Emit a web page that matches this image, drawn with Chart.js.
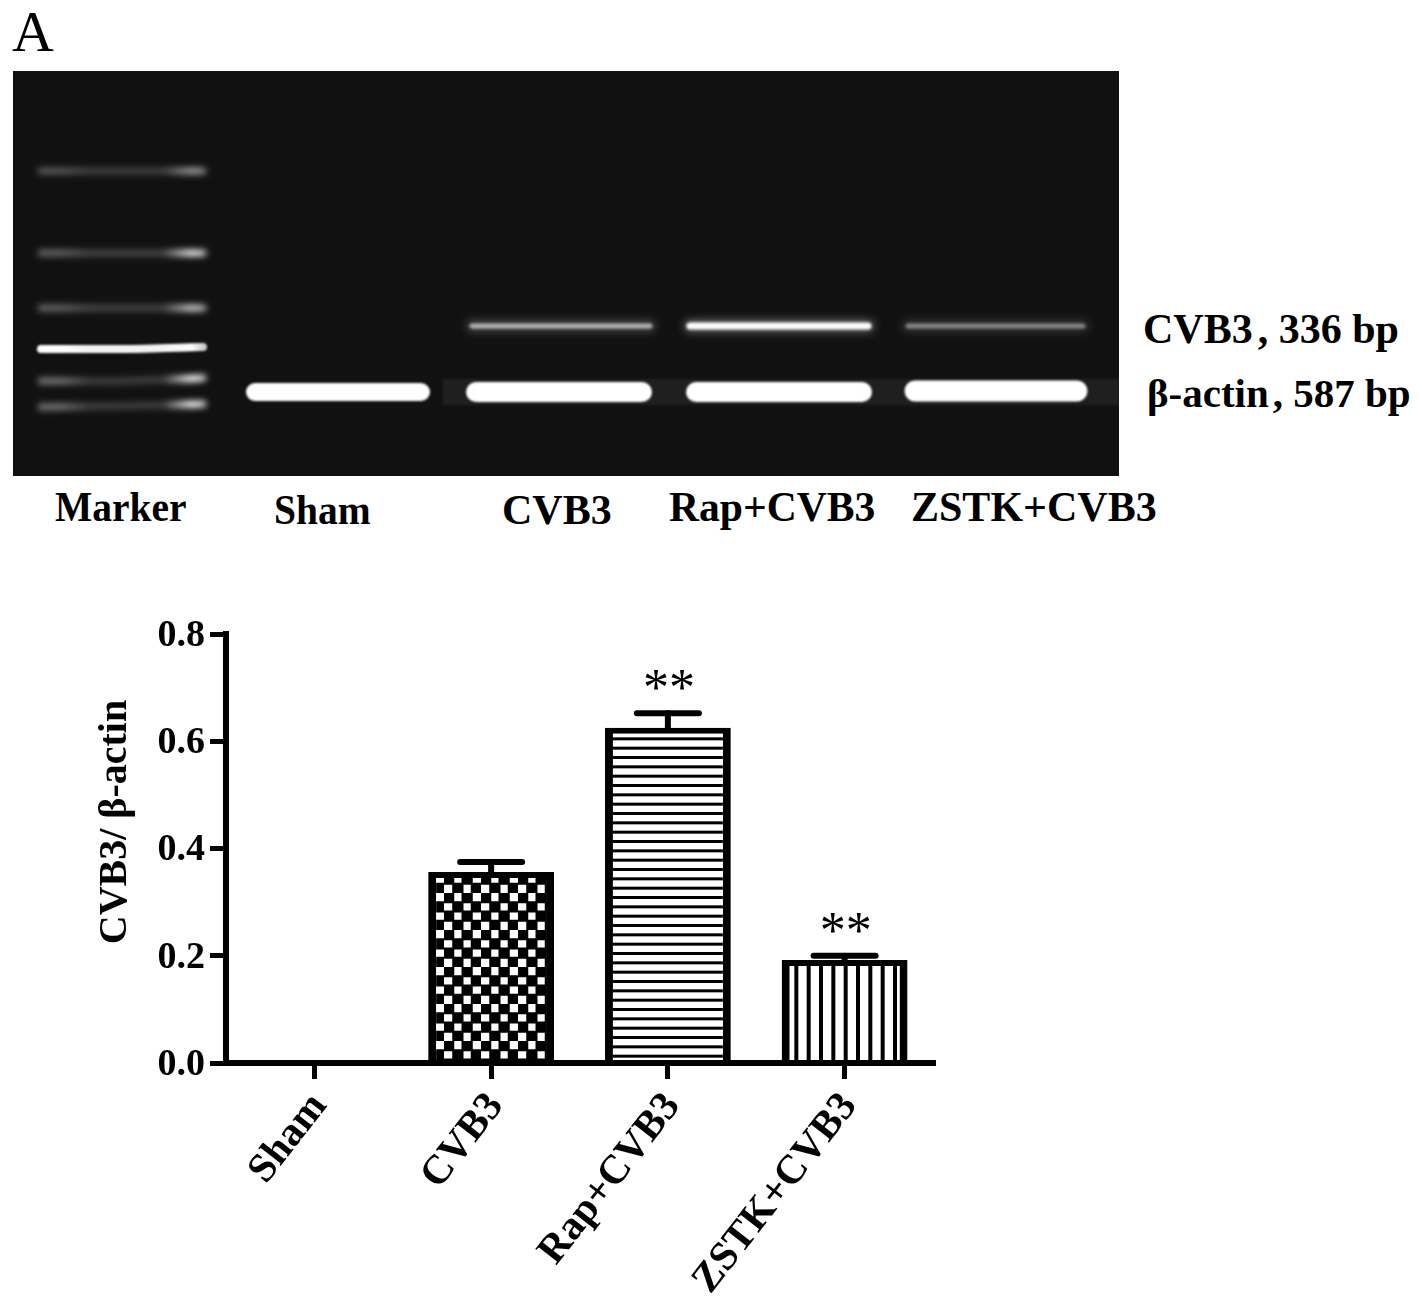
<!DOCTYPE html>
<html>
<head>
  <meta charset="utf-8">
  <script src="https://cdn.jsdelivr.net/npm/chart.js"></script>
  <style>
    html, body { margin: 0; background: #fff; }
    body { position: relative; width: 1422px; height: 1310px; overflow: hidden; filter: blur(0.5px); }
    canvas { position: absolute; display: block; }
    #gel { left: 13px; top: 71px; background: #111; }
    #bars { left: 0; top: 560px; }
    .lbl { position: absolute; white-space: nowrap; font: bold 42px "Liberation Serif", serif; color: #000; transform-origin: left top; line-height: 1; }
  </style>
</head>
<body>
  <div class="lbl" style="left:12px;top:3px;font-weight:normal;font-size:58px">A</div>
  <div class="lbl" style="left:55px;top:486px;transform:scaleX(.94)">Marker</div>
  <div class="lbl" style="left:274px;top:489px;transform:scaleX(.94)">Sham</div>
  <div class="lbl" style="left:502px;top:489px">CVB3</div>
  <div class="lbl" style="left:669px;top:486px;transform:scaleX(.99)">Rap+CVB3</div>
  <div class="lbl" style="left:911px;top:486px">ZSTK+CVB3</div>
  <div class="lbl" style="left:1143px;top:308px">CVB3<span style="margin-left:5px">,</span> 336 bp</div>
  <div class="lbl" style="left:1147px;top:373px;font-size:41px">β-actin<span style="margin-left:4px">,</span> 587 bp</div>

  <canvas id="gel" width="1106" height="405"></canvas>
  <canvas id="bars" width="1422" height="750"></canvas>

  <script>
    // bar chart values
    const groups = ['Sham', 'CVB3', 'Rap+CVB3', 'ZSTK+CVB3'];
    const ratio = [0, 0.356, 0.625, 0.192];
    const errorTop = [0, 0.375, 0.652, 0.2];
    const stars = ['', '', '**', '**'];
    const yTicks = [0, 0.2, 0.4, 0.6, 0.8];
    const yTitle = 'CVB3/ β-actin';

    // gel bands (x along the gel, y = migration distance)
    const markerX = [28, 110, 190];
    const markerStartY = [100, 182, 237, 278, 310, 336];
    const markerMidY = [100, 182, 237, 278, 310, 335];
    const markerEndY = [100, 182, 237, 276, 307, 333];
    const markerLeft = [0.3, 0.35, 0.35, 1, 0.42, 0.42];
    const markerMid = [0.2, 0.22, 0.22, 0.95, 0.2, 0.2];
    const markerRight = [0.6, 0.95, 0.8, 1, 1, 1];

    const actinLanes = ['Sham', 'CVB3', 'Rap+CVB3', 'ZSTK+CVB3'];
    const actinStart = [242, 463, 683, 902];
    const actinEnd = [408, 629, 849, 1064];
    const actinY = [321, 321, 321, 320];
    const actinSize = [18, 20, 20, 21];

    const viralStart = [459, 677, 895];
    const viralEnd = [637, 855, 1070];
    const viralY = [255, 255, 255];
    const viralLevel = [0.6, 1, 0.42];
    const viralSize = [5, 7, 5];

    const streakX = [430, 1106];
    const streakY = 321;

    function band(xs, ys, color, width, blur, cap) {
      return {
        data: xs.map((x, i) => ({ x: x, y: ys[i] })),
        borderColor: color,
        borderWidth: width,
        borderCapStyle: cap || 'round',
        pointRadius: 0,
        tension: 0.3,
        blur: blur
      };
    }

    const gelCtx = document.getElementById('gel').getContext('2d');

    // marker bands fade in the middle, the right hand end is the hot spot
    // the gel canvas is 1:1 with the x scale so markerX works for the gradient
    function markerColor(i) {
      const g = gelCtx.createLinearGradient(markerX[0], 0, markerX[2], 0);
      g.addColorStop(0, `rgba(255,255,255,${markerLeft[i]})`);
      g.addColorStop(0.12, `rgba(255,255,255,${markerLeft[i]})`);
      g.addColorStop(0.3, `rgba(255,255,255,${markerMid[i]})`);
      g.addColorStop(0.75, `rgba(255,255,255,${markerMid[i]})`);
      g.addColorStop(0.93, `rgba(255,255,255,${markerRight[i]})`);
      g.addColorStop(1, `rgba(255,255,255,${markerRight[i] * 0.8})`);
      return g;
    }

    const gelSets = [];
    gelSets.push(band(streakX, [streakY, streakY], 'rgba(255,255,255,0.06)', 26, 1, 'butt'));
    markerStartY.forEach((y, i) => {
      const ys = [y, markerMidY[i], markerEndY[i]];
      gelSets.push(band(markerX, ys, markerColor(i), i === 3 ? 8 : 7, i === 3 ? 1.3 : 3));
    });
    viralY.forEach((y, i) => {
      gelSets.push(band([viralStart[i], viralEnd[i]], [y, y], `rgba(255,255,255,${viralLevel[i] * 0.35})`, 12, 4));
      gelSets.push(band([viralStart[i], viralEnd[i]], [y, y], `rgba(255,255,255,${viralLevel[i]})`, viralSize[i], 1.6));
    });
    actinLanes.forEach((n, i) => {
      gelSets.push(band([actinStart[i], actinEnd[i]], [actinY[i], actinY[i]], '#fff', actinSize[i], 1));
    });

    // blur per band, the photo has soft edges
    const softBands = {
      id: 'softBands',
      beforeDatasetDraw(chart, args) {
        chart.ctx.save();
        chart.ctx.filter = `blur(${chart.data.datasets[args.index].blur}px)`;
      },
      afterDatasetDraw(chart) {
        chart.ctx.restore();
      }
    };

    new Chart(gelCtx, {
      type: 'line',
      data: { datasets: gelSets },
      options: {
        responsive: false,
        animation: false,
        parsing: false,
        clip: false,
        layout: { padding: 0 },
        plugins: { legend: { display: false }, tooltip: { enabled: false } },
        scales: {
          x: { type: 'linear', display: false, min: 0, max: 1106 },
          y: { type: 'linear', display: false, min: 0, max: 405, reverse: true }
        }
      },
      plugins: [softBands]
    });

    // bar fill patterns
    function tile(w, h, paint) {
      const c = document.createElement('canvas');
      c.width = w;
      c.height = h;
      const p = c.getContext('2d');
      p.fillStyle = '#fff';
      p.fillRect(0, 0, w, h);
      p.fillStyle = '#000';
      paint(p);
      return p.createPattern(c, 'repeat');
    }
    const checker = tile(37, 37, p => {
      const s = 37 / 4;
      for (let r = 0; r < 4; r++) {
        for (let k = 0; k < 4; k++) {
          if ((r + k) % 2 === 0) p.fillRect(k * s - 1, r * s - 1, s + 2, s + 2);
        }
      }
    });
    const hLines = tile(8, 28, p => {
      for (let i = 0; i < 3; i++) p.fillRect(0, i * 28 / 3, 8, 3);
    });
    const vLines = tile(37, 8, p => {
      for (let i = 0; i < 3; i++) p.fillRect(5 + i * 37 / 3, 0, 4, 8);
    });

    const errorBars = {
      id: 'errorBars',
      afterDatasetsDraw(chart) {
        const ctx = chart.ctx;
        const x = chart.scales.x;
        const y = chart.scales.y;
        ctx.save();
        ctx.strokeStyle = '#000';
        ctx.fillStyle = '#000';
        ctx.lineCap = 'round';
        groups.forEach((g, i) => {
          if (!ratio[i]) return;
          const px = x.getPixelForValue(i);
          const top = y.getPixelForValue(errorTop[i]);
          const base = y.getPixelForValue(ratio[i]);
          ctx.lineWidth = 6;
          ctx.beginPath();
          ctx.moveTo(px, base);
          ctx.lineTo(px, top);
          ctx.stroke();
          ctx.beginPath();
          ctx.moveTo(px - 31, top);
          ctx.lineTo(px + 31, top);
          ctx.stroke();
          if (stars[i]) {
            ctx.font = '52px "Liberation Serif", serif';
            ctx.textAlign = 'center';
            ctx.textBaseline = 'alphabetic';
            ctx.fillText(stars[i], px + 1, top - 8);
          }
        });
        // x axis runs on a little past the last category
        ctx.lineCap = 'butt';
        ctx.lineWidth = 6;
        ctx.beginPath();
        ctx.moveTo(x.right, y.bottom);
        ctx.lineTo(x.right + 3, y.bottom);
        ctx.stroke();
        // y title sits above the middle of the axis
        ctx.translate(116, 262);
        ctx.rotate(-Math.PI / 2);
        ctx.font = 'bold 40px "Liberation Serif", serif';
        ctx.textAlign = 'center';
        ctx.textBaseline = 'middle';
        ctx.fillText(yTitle, 0, 0);
        ctx.restore();
      }
    };

    new Chart(document.getElementById('bars').getContext('2d'), {
      type: 'bar',
      data: {
        labels: groups,
        datasets: [{
          data: ratio,
          backgroundColor: [checker, checker, hLines, vLines],
          borderColor: '#000',
          borderWidth: c => (c.raw ? { top: 6, left: 8, right: 8, bottom: 0 } : 0),
          borderSkipped: false,
          barPercentage: 0.712,
          categoryPercentage: 1
        }]
      },
      options: {
        responsive: false,
        animation: false,
        layout: { padding: { top: 74, right: 489, left: 0, bottom: 0 } },
        plugins: { legend: { display: false }, tooltip: { enabled: false } },
        scales: {
          y: {
            min: 0,
            max: 0.8,
            afterFit(s) { s.width = 226; },
            afterBuildTicks(s) { s.ticks = yTicks.map(v => ({ value: v })); },
            border: { display: true, color: '#000', width: 6 },
            grid: { drawOnChartArea: false, color: '#000', tickColor: '#000', tickLength: 16, tickWidth: 5 },
            ticks: {
              color: '#000',
              padding: 5,
              labelOffset: 2,
              font: { family: '"Liberation Serif", serif', weight: 'bold', size: 38 },
              callback: v => v.toFixed(1)
            }
          },
          x: {
            afterFit(s) { s.height = 247; },
            border: { display: true, color: '#000', width: 6, z: 1 },
            grid: { offset: false, drawOnChartArea: false, color: '#000', tickColor: '#000', tickLength: 16, tickWidth: 5 },
            ticks: {
              color: '#000',
              padding: 5,
              labelOffset: 5,
              autoSkip: false,
              minRotation: 52,
              maxRotation: 52,
              font: { family: '"Liberation Serif", serif', weight: 'bold', size: 41 }
            }
          }
        }
      },
      plugins: [errorBars]
    });
  </script>
</body>
</html>
